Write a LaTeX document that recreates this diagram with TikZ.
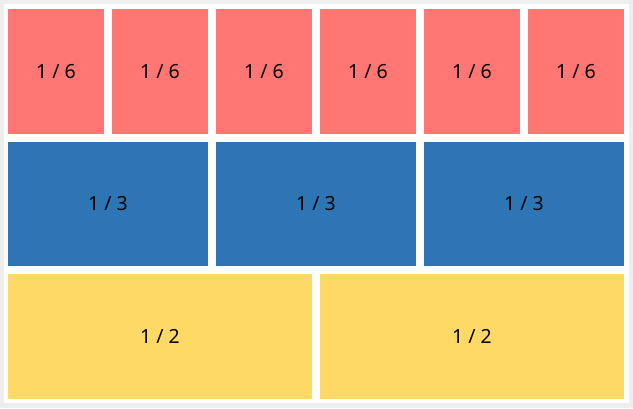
\documentclass[tikz,border=0pt]{standalone}
\usepackage{fontspec}
\setmainfont{Noto Sans}
\usepackage{xcolor}
\definecolor{sixthred}{HTML}{FF7672}
\definecolor{thirdblue}{HTML}{2E75B6}
\definecolor{halfyellow}{HTML}{FFD966}
\definecolor{framegray}{HTML}{EEEEEE}

\begin{document}
\begin{tikzpicture}[x=1pt, y=-1pt]
                \tikzstyle{part} = [rectangle, inner sep=0pt, outer sep=0pt, text centered, font=\fontsize{19.5}{23}\selectfont]
                \tikzstyle{sixth} = [part, fill=sixthred, minimum width=96pt, minimum height=125pt]
                \tikzstyle{third} = [part, fill=thirdblue, minimum width=200pt, minimum height=124pt]
                \tikzstyle{half} = [part, fill=halfyellow, minimum width=304pt, minimum height=125pt]
                
                \fill[framegray] (0,0) rectangle (633,408);
                \fill[white] (4,4) rectangle (629,403);
                \useasboundingbox (0,0) rectangle (633,408);
                
                % top row
                \node (sixthA) [sixth] at (56,71.5) {1 / 6};
                \node (sixthB) [sixth] at (160,71.5) {1 / 6};
                \node (sixthC) [sixth] at (264,71.5) {1 / 6};
                \node (sixthD) [sixth] at (368,71.5) {1 / 6};
                \node (sixthE) [sixth] at (472,71.5) {1 / 6};
                \node (sixthF) [sixth] at (576,71.5) {1 / 6};
                
                % middle row
                \node (thirdA) [third] at (108,204) {1 / 3};
                \node (thirdB) [third] at (316,204) {1 / 3};
                \node (thirdC) [third] at (524,204) {1 / 3};
                
                % bottom row
                \node (halfA) [half] at (160,336.5) {1 / 2};
                \node (halfB) [half] at (472,336.5) {1 / 2};
            \end{tikzpicture}
\end{document}
